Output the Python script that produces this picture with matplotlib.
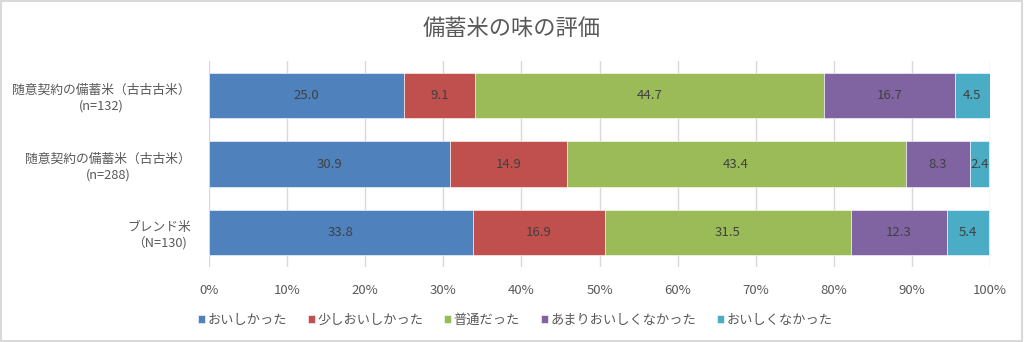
import matplotlib
matplotlib.use("Agg")
import matplotlib.pyplot as plt
from matplotlib.patches import Rectangle
import numpy as np

plt.rcParams["font.family"] = ["Noto Sans CJK JP", "DejaVu Sans"]

categories = [
    "随意契約の備蓄米（古古古米）\n(n=132)",
    "随意契約の備蓄米（古古米）\n(n=288)",
    "ブレンド米\n（N=130)",
]
answers = ["おいしかった", "少しおいしかった", "普通だった", "あまりおいしくなかった", "おいしくなかった"]
shares = [
    [25.0, 9.1, 44.7, 16.7, 4.5],
    [30.9, 14.9, 43.4, 8.3, 2.4],
    [33.8, 16.9, 31.5, 12.3, 5.4],
]
colors = ["#4F81BD", "#C0504D", "#9BBB59", "#8064A2", "#4BACC6"]
xticks = np.arange(0, 101, 10)

text_color = "#595959"

fig = plt.figure(figsize=(10.24, 3.42), dpi=100)
ax = fig.add_axes([0.2041, 0.2193, 0.7627, 0.6023])

data = np.array(shares)
y = np.arange(len(categories))
left = np.zeros(len(categories))
for j, name in enumerate(answers):
    vals = data[:, j]
    bars = ax.barh(y, vals, left=left, height=0.66, color=colors[j],
                   edgecolor="white", linewidth=0.4, label=name, zorder=3)
    for rect, v in zip(bars, vals):
        ax.text(rect.get_x() + rect.get_width() / 2, rect.get_y() + rect.get_height() / 2,
                f"{v:.1f}", ha="center", va="center", fontsize=9.5, color="#404040", zorder=4)
    left += vals

ax.set_xlim(0, 100)
ax.set_ylim(2.5, -0.5)
ax.set_xticks(xticks)
ax.set_xticklabels([f"{t}%" for t in xticks], fontsize=9.5, color=text_color)
ax.set_yticks(y)
ax.set_yticklabels(categories, fontsize=9.2, color=text_color, multialignment="center",
                   linespacing=1.3)
ax.tick_params(axis="both", length=0)
ax.tick_params(axis="x", pad=12)
ax.tick_params(axis="y", pad=13)
ax.grid(axis="x", color="#D9D9D9", linewidth=1.0, zorder=0)
for side in ["top", "right", "bottom", "left"]:
    ax.spines[side].set_visible(False)

fig.suptitle("備蓄米の味の評価", x=0.5, y=0.95, fontsize=16, color=text_color)

fig.legend(loc="center", bbox_to_anchor=(0.503, 0.064), ncol=5, frameon=False,
           fontsize=9.5, handlelength=0.55, handleheight=0.55, handletextpad=0.15,
           columnspacing=1.6, labelcolor=text_color)

# thin grey frame around the whole figure
fig.patches.append(Rectangle((0.001, 0.002), 0.997, 0.995, transform=fig.transFigure,
                             fill=False, edgecolor="#D9D9D9", linewidth=1.5))

fig.savefig("out.png", dpi=100)
